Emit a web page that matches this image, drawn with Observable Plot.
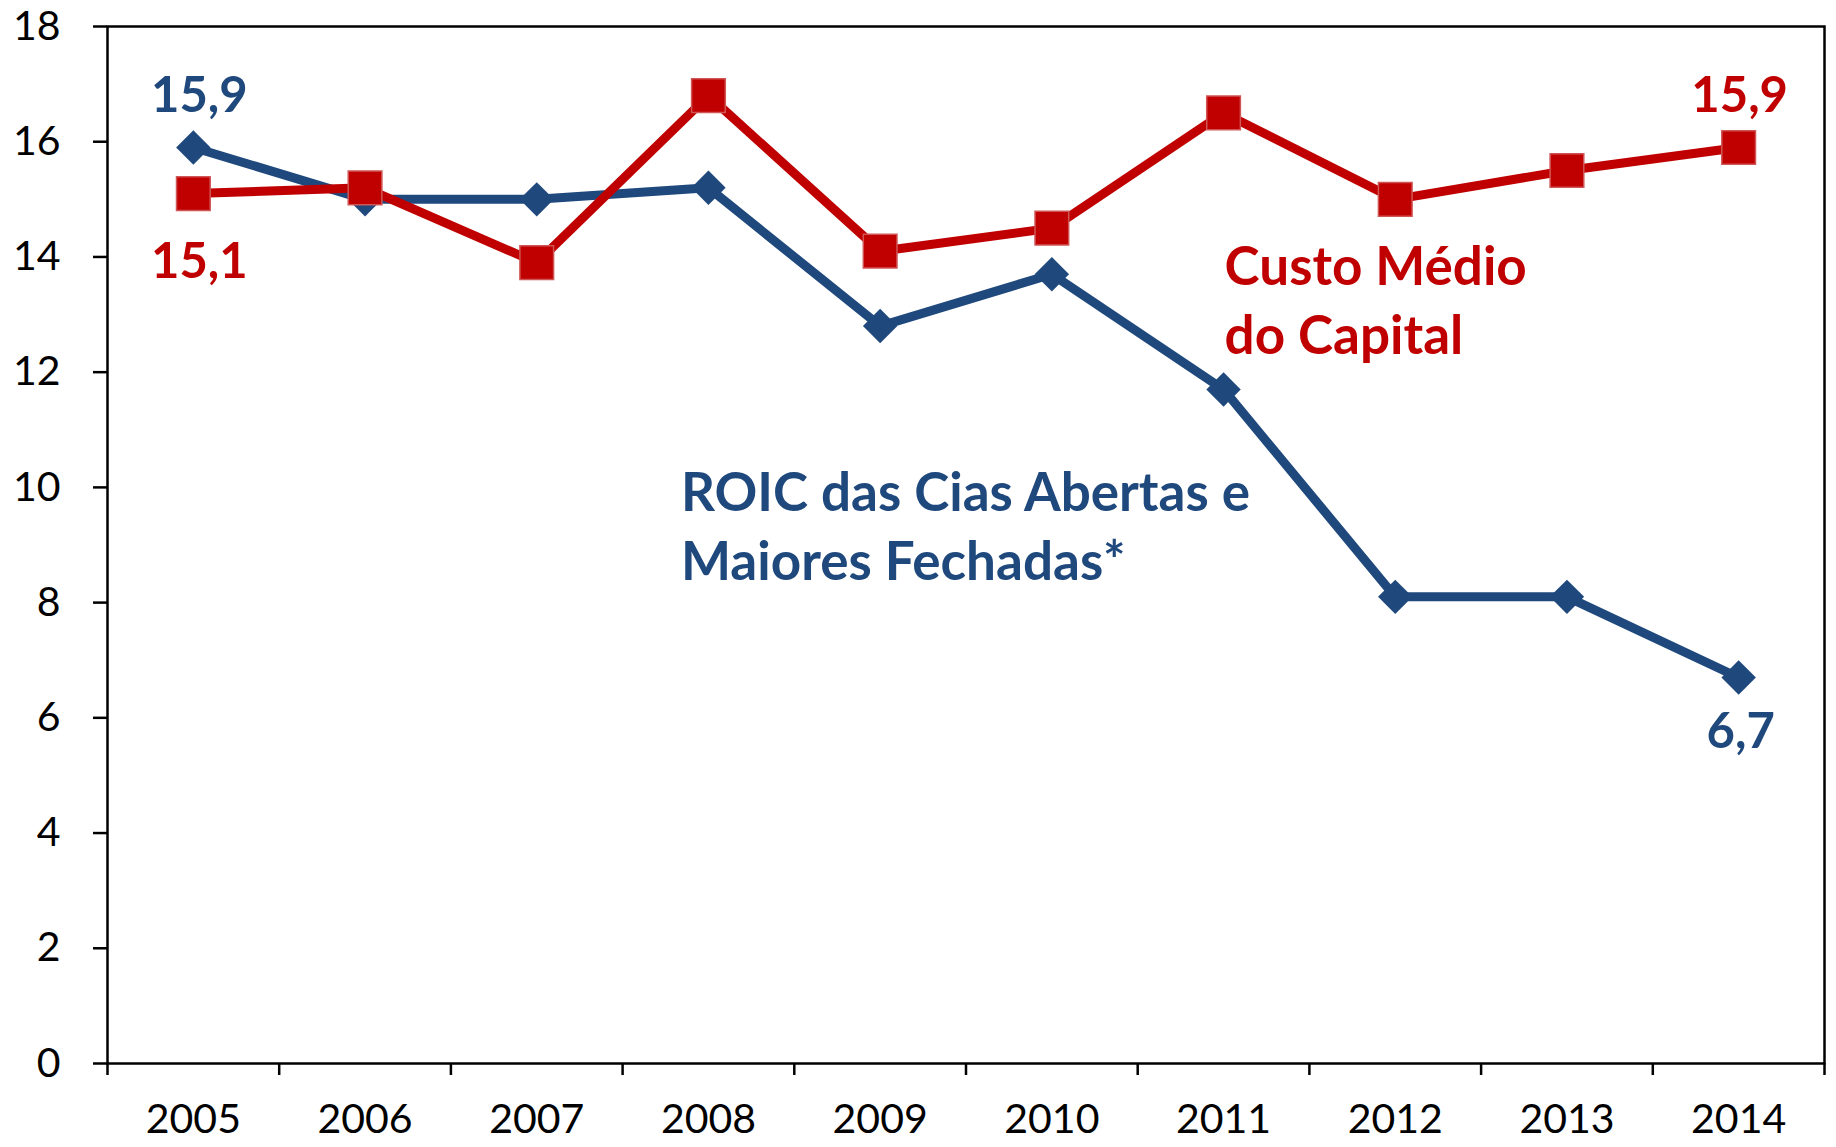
<!DOCTYPE html>
<html>
<head>
<meta charset="utf-8">
<script src="https://cdn.jsdelivr.net/npm/d3@7"></script>
<script src="https://cdn.jsdelivr.net/npm/@observablehq/plot@0.6"></script>
<style>
  html, body { margin: 0; padding: 0; background: #fff; }
  #chart svg { display: block; }
</style>
</head>
<body>
<div id="chart"></div>
<script>
const years = [2005, 2006, 2007, 2008, 2009, 2010, 2011, 2012, 2013, 2014];
const roic  = [15.9, 15.0, 15.0, 15.2, 12.8, 13.7, 11.7, 8.1, 8.1, 6.7];
const custo = [15.1, 15.2, 13.9, 16.8, 14.1, 14.5, 16.5, 15.0, 15.5, 15.9];
const yTicks = [0, 2, 4, 6, 8, 10, 12, 14, 16, 18];
const roicLabel = "ROIC das Cias Abertas e\nMaiores Fechadas*";
const custoLabel = "Custo Médio\ndo Capital";

const BLUE = "#1F497D";
const RED = "#C00000";

const data = years.map((year, i) => ({year, roic: roic[i], custo: custo[i]}));
const boundaries = years.concat([years[years.length - 1] + 1]).map(y => y - 0.5);
const fmt = v => v.toFixed(1).replace(".", ",");
const first = data[0];
const last = data[data.length - 1];

const chart = Plot.plot({
  width: 1836,
  height: 1147,
  marginLeft: 107,
  marginRight: 12,
  marginTop: 26,
  marginBottom: 84,
  style: {fontFamily: "Lato, 'Open Sans', sans-serif", background: "white", color: "black"},
  x: {domain: [boundaries[0], boundaries[boundaries.length - 1]]},
  y: {domain: [0, 18]},
  marks: [
    Plot.axisY(yTicks, {tickSize: 14, tickPadding: 33, fontSize: 41, strokeWidth: 2.5, label: null, tickFormat: d => String(d)}),
    Plot.axisX(boundaries, {tickSize: 12, strokeWidth: 2.5, tickFormat: () => "", label: null}),
    Plot.axisX(years, {tickSize: 0, tickPadding: 40, fontSize: 41, tickFormat: d => String(d), label: null}),
    Plot.frame({stroke: "black", strokeWidth: 2.5}),
    Plot.line(data, {x: "year", y: "roic", stroke: BLUE, strokeWidth: 9}),
    Plot.dot(data, {x: "year", y: "roic", symbol: "diamond2", r: 15.5, fill: BLUE, stroke: "none"}),
    Plot.line(data, {x: "year", y: "custo", stroke: RED, strokeWidth: 9}),
    Plot.dot(data, {x: "year", y: "custo", symbol: "square", r: 19, fill: RED, stroke: "#D05555", strokeWidth: 1.5}),
    Plot.text([first], {x: "year", y: "roic", text: d => fmt(d.roic), dx: 6, dy: -51, fill: BLUE, fontSize: 49, fontWeight: "bold"}),
    Plot.text([first], {x: "year", y: "custo", text: d => fmt(d.custo), dx: 6, dy: 69, fill: RED, fontSize: 49, fontWeight: "bold"}),
    Plot.text([last], {x: "year", y: "custo", text: d => fmt(d.custo), dx: 1, dy: -51, fill: RED, fontSize: 49, fontWeight: "bold"}),
    Plot.text([last], {x: "year", y: "roic", text: d => fmt(d.roic), dx: 2, dy: 55, fill: BLUE, fontSize: 49, fontWeight: "bold"}),
    Plot.text([custoLabel], {x: 2011, y: 13.29, text: d => d, textAnchor: "start", lineAnchor: "middle", dx: 1, lineHeight: 1.3, fill: RED, fontSize: 53, fontWeight: "bold"}),
    Plot.text([roicLabel], {x: 2007.84, y: 9.38, text: d => d, textAnchor: "start", lineAnchor: "middle", lineHeight: 1.3, fill: BLUE, fontSize: 53, fontWeight: "bold"})
  ]
});
document.getElementById("chart").appendChild(chart);
</script>
</body>
</html>
